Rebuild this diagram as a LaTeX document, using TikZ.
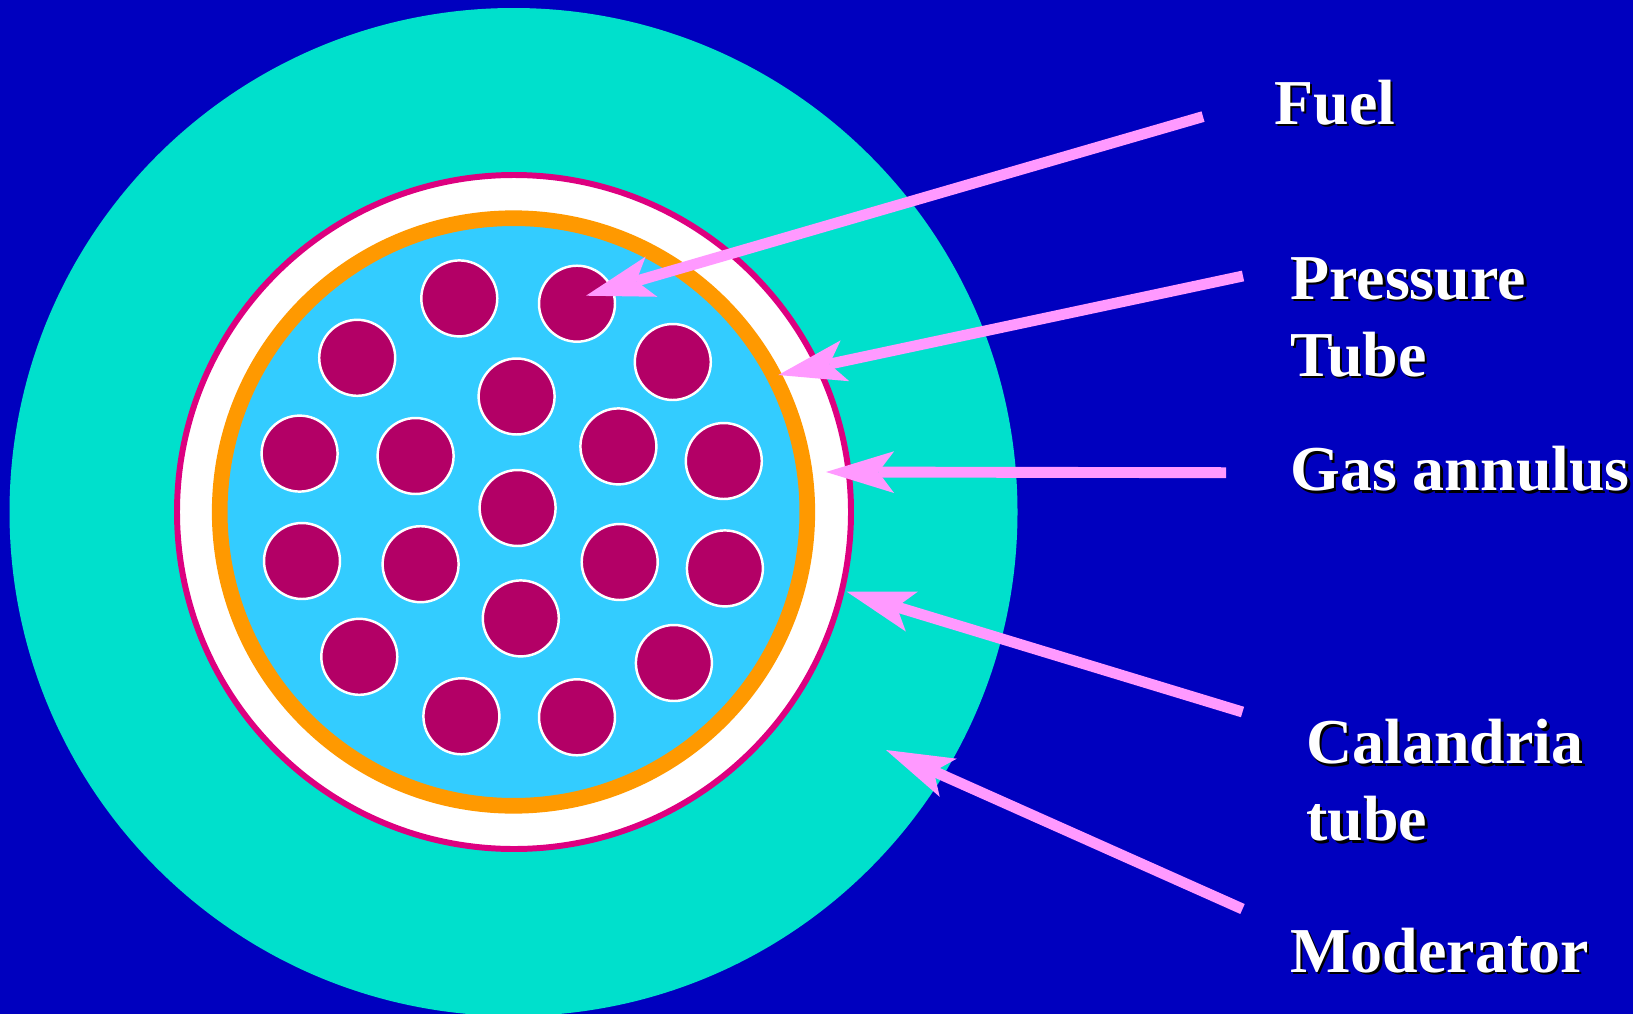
\documentclass[tikz,border=0pt]{standalone}
\usepackage{fontspec}
\setmainfont{Liberation Serif}
\usetikzlibrary{arrows.meta}
\definecolor{Deep}{HTML}{0000BF}
\definecolor{Coolant}{HTML}{00E0CC}
\definecolor{Rose}{HTML}{DD0080}
\definecolor{Amber}{HTML}{FF9900}
\definecolor{Sky}{HTML}{33CCFF}
\definecolor{Plum}{HTML}{B30066}
\definecolor{Pink}{HTML}{FF99FF}
\newcommand{\dropped}[1]{\leavevmode\rlap{\kern1.4pt\raisebox{-1.4pt}{\textcolor{black}{#1}}}#1}

\begin{document}
\begin{tikzpicture}[
    x=.02cm,y=-.02cm,
    pellet/.style={circle,draw=white,line width=1.4pt,fill=Plum,minimum size=1.52cm,inner sep=0pt,outer sep=0pt},
    pointer/.style={Pink,line width=6.2pt,-{Stealth[length=38.8pt,width=23.8pt,inset=9pt,line width=0pt]}},
    tag/.style={anchor=base west,inner sep=0pt,text=white,align=left,font=\fontsize{36.4}{43.8}\selectfont\bfseries}
  ]
    \clip (0,0) rectangle (1633,1014);
    \fill[Deep] (0,0) rectangle (1633,1014);
    \fill[Coolant] (513.5,512) circle (504);
    \draw[Rose,line width=3.4pt,fill=white] (514,512) circle (337);
    \draw[Amber,line width=8.9pt,fill=Sky] (513.5,512) circle (293.8);
    \foreach \x/\y [count=\i] in {459.3/298.4,577/303.7,357.2/357.8,672.8/362,516.6/396.5,299.6/453.6,415.6/456,618.4/446.4,723.8/461,517.6/508,302/561,420.6/564.2,619.7/562,724.9/568.4,520.8/618.4,359.3/656.8,673.9/663,461.4/716.3,577/717.3}
      \node[pellet] (pellet\i) at (\x,\y) {};
    \coordinate (fueltail) at (1203,116.6);
    \coordinate (fueltip) at (586,295.7);
    \coordinate (pressuretail) at (1243,276);
    \coordinate (pressuretip) at (778.3,375);
    \coordinate (gastail) at (1226,472.7);
    \coordinate (gastip) at (826,472);
    \coordinate (calandriatail) at (1242.5,712);
    \coordinate (calandriatip) at (846.7,591.7);
    \coordinate (moderatortail) at (1242.5,909);
    \coordinate (moderatortip) at (886,750);
    \foreach \x in {fuel,pressure,gas,calandria,moderator} \draw[pointer] (\x tail)--(\x tip);
    \node[tag] (fuel) at (1274,124) {\dropped{Fuel}};
    \node[tag,anchor=north west] (pressure) at (1290,257) {\dropped{Pressure}\\\dropped{Tube}};
    \node[tag] (gas) at (1290,490.6) {\dropped{Gas annulus}};
    \node[tag,anchor=north west] (calandria) at (1306,719) {\dropped{Calandria}\\\dropped{tube}};
    \node[tag] (moderator) at (1290,972) {\dropped{Moderator}};
  \end{tikzpicture}
\end{document}
